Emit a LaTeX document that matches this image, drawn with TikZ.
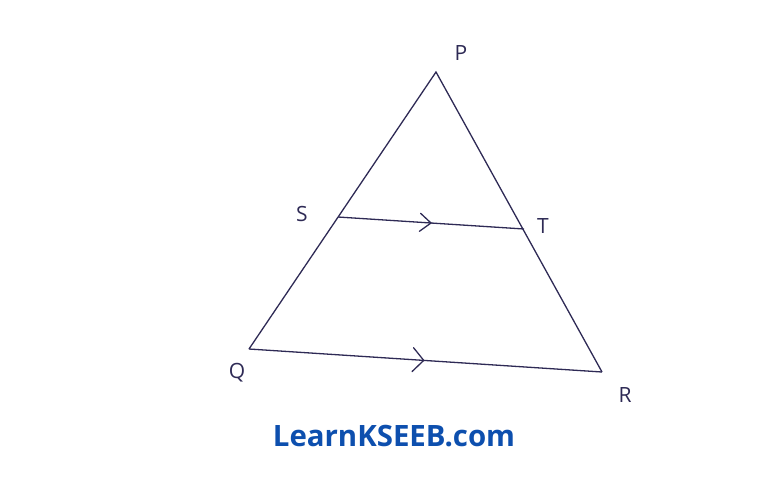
\documentclass[tikz,border=0pt]{standalone}
\usepackage{fontspec}
\setmainfont{Open Sans}
\usetikzlibrary{decorations.markings}
\definecolor{ink}{HTML}{2E2A55}
\definecolor{brand}{HTML}{0D4FAE}
\tikzset{
  side/.style={draw=ink, line width=1.3pt},
  parmark/.style 2 args={side, postaction={decorate}, decoration={markings,
     mark=at position #1 with {\draw[ink, line width=1.3pt, line cap=round, line join=miter]
        (-11pt,-#2) -- (0pt,0pt) -- (-11pt,#2);}}},
  vlabel/.style={text=ink, font=\fontsize{21}{24}\selectfont},
}
\begin{document}
\begin{tikzpicture}[x=1pt,y=-1pt]
\useasboundingbox (0,0) rectangle (768,485);
\coordinate (P) at (436,72);
\coordinate (Q) at (249,349);
\coordinate (R) at (602,372);
\coordinate (S) at (338,217);
\coordinate (T) at (524,229);
\draw[side] (Q) -- (P) -- (R);
\draw[parmark={0.495}{12pt}] (Q) -- (R);
\draw[parmark={0.5}{9pt}] (S) -- (T);
\node[vlabel] (lP) at (461,53) {P};
\node[vlabel] (lS) at (302,214) {S};
\node[vlabel] (lT) at (543,226) {T};
\node[vlabel] (lQ) at (237,373) {Q};
\node[vlabel] (lR) at (625,395) {R};
\node[text=brand, font=\bfseries\fontsize{29.4}{34}\selectfont] (brand) at (394,436) {LearnKSEEB.com};
\end{tikzpicture}
\end{document}
